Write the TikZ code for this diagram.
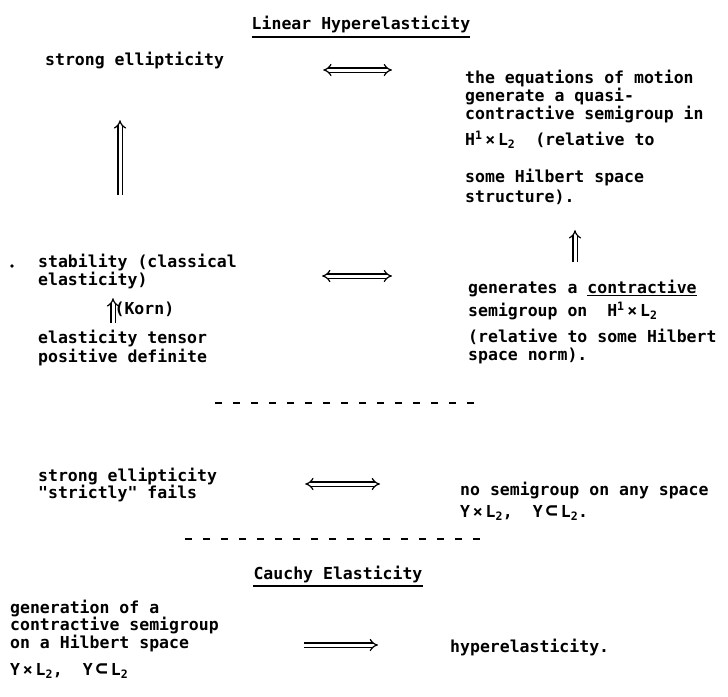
\documentclass[tikz,border=0pt]{standalone}
\usepackage{fontspec}
\usepackage{tikz}
\usetikzlibrary{arrows.meta,positioning}
\newfontfamily\typew{DejaVu Sans Mono}
\newcommand{\twfont}{\typew\bfseries\fontsize{16.5}{18}\selectfont}
\newcommand{\HL}{H\textsuperscript{1}\,×\,L\textsubscript{2}}
\newcommand{\YL}{Y\,×\,L\textsubscript{2}}
\newcommand{\sbs}{{\fontsize{21}{18}\selectfont ⊂}}

\tikzset{
  txt/.style={anchor=north west, inner sep=0pt, align=left, font=\twfont},
  head/.style={inner sep=0pt, font=\twfont},
  iff/.style={double, double distance=3pt, line width=1.2pt, {Implies}-{Implies}},
  impl/.style={double, double distance=3pt, line width=1.2pt, -{Implies}},
  sep/.style={line width=1.6pt, dash pattern=on 7pt off 11pt},
}

\begin{document}
\begin{tikzpicture}[x=1pt,y=-1pt]
      \useasboundingbox (0,0) rectangle (728,696);
      % Linear hyperelasticity
      \node[head] (lin) at (361,25) {Linear Hyperelasticity};
      \draw[line width=2pt] ([yshift=-3pt]lin.south west) -- ([yshift=-3pt]lin.south east);
      
      \node[txt] (se) at (45,52) {strong ellipticity};
      \node[txt] (eqm) at (465,70) {the equations of motion\\
        generate a quasi-\\
        contractive semigroup in\\[7pt]
        \HL\ \ (relative to\\[19pt]
        some Hilbert space\\[2pt]
        structure).};
      
      \fill (12,266) circle (1.8pt);
      \node[txt] (stab) at (38,254) {stability (classical\\elasticity)};
      \node[txt] (gen) at (468,280) {generates a \underline{contractive}\\[4pt]
        semigroup on \ \HL\\[8pt]
        (relative to some Hilbert\\
        space norm).};
      \node[txt] (tens) at (38,330) {elasticity tensor\\[1pt]positive definite};
      
      \draw[iff, shorten <=99pt, shorten >=73pt] ([yshift=-18pt]se.north east) -- ([yshift=-18pt]se.north east -| eqm.west);
      \draw[impl, shorten <=59pt, shorten >=51pt] ([xshift=82pt]stab.north west) -- ([xshift=82pt]stab.north west |- se.south);
      \draw[impl, shorten <=18pt, shorten >=25pt] ([xshift=107pt]gen.north west) -- ([xshift=107pt]gen.north west |- eqm.south);
      \draw[iff, shorten <=85pt, shorten >=76pt] ([yshift=-22pt]stab.north east) -- ([yshift=-22pt]stab.north east -| gen.west);
      \draw[impl, shorten <=7pt, shorten >=9pt] ([xshift=75pt]tens.north west) -- ([xshift=75pt]tens.north west |- stab.south)
        node[midway, right=1pt, inner sep=0pt, font=\twfont] (korn) {(Korn)};
      
      \draw[sep] (215,403) -- (485,403);
      
      % strict failure
      \node[txt] (se2) at (38,468) {strong ellipticity\\[-1pt]"strictly" fails};
      \node[txt] (nosg) at (460,482) {no semigroup on any space\\[4pt]
        \YL,\ \ Y\,\sbs\,L\textsubscript{2}.};
      \draw[iff, shorten <=88pt, shorten >=80pt] ([yshift=-16pt]se2.north east) -- ([yshift=-16pt]se2.north east -| nosg.west);
      
      \draw[sep] (185,539) -- (485,539);
      
      % Cauchy elasticity
      \node[head] (cau) at (338,574) {Cauchy Elasticity};
      \draw[line width=2pt] ([yshift=-3pt]cau.south west) -- ([yshift=-3pt]cau.south east);
      
      \node[txt] (genl) at (10,600) {generation of a\\[-1pt]
        contractive semigroup\\
        on a Hilbert space\\[9pt]
        \YL,\ \ Y\,\sbs\,L\textsubscript{2}};
      \node[txt, anchor=west] (hyp) at (450,647) {hyperelasticity.};
      \draw[impl, shorten <=85pt, shorten >=72pt] ([yshift=-45pt]genl.north east) -- ([yshift=-45pt]genl.north east -| hyp.west);
\end{tikzpicture}
\end{document}
